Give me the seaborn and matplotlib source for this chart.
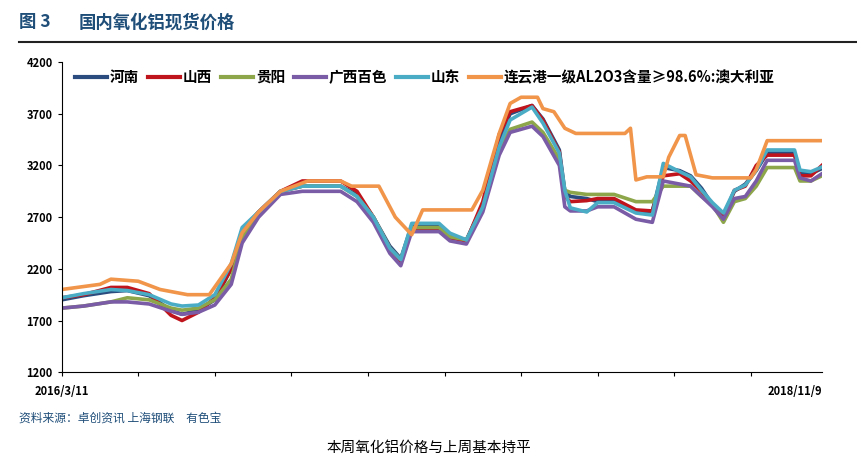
import pandas as pd
import matplotlib.pyplot as plt
import seaborn as sns

plt.rcParams["font.family"] = ["Noto Sans CJK SC", "DejaVu Sans"]

# weekly index, 0 = 2016/3/11, 139 = 2018/11/9
weeks = [0, 4, 9, 12, 16, 20, 22, 25, 28, 31, 33, 36, 40, 44, 51, 54, 57, 60, 62, 64,
         69, 71, 74, 77, 80, 82, 86, 88, 91, 92, 93, 96, 98, 101, 105, 108, 110, 113, 115, 117,
         119, 121, 123, 125, 127, 129, 134, 135, 137, 139]
henan = [1900, 1940, 1980, 1990, 1940, 1800, 1760, 1800, 1900, 2200, 2580, 2750, 2950, 3000, 3000, 2920, 2700, 2420, 2300, 2620,
         2620, 2520, 2480, 2820, 3450, 3700, 3780, 3650, 3350, 2950, 2900, 2880, 2850, 2850, 2750, 2760, 3180, 3150, 3100, 2980,
         2820, 2720, 2950, 3020, 3150, 3320, 3320, 3130, 3120, 3170]
shanxi = [1920, 1950, 2020, 2020, 1960, 1750, 1700, 1780, 1920, 2200, 2550, 2750, 2950, 3050, 3050, 2950, 2700, 2400, 2270, 2580,
          2580, 2500, 2470, 2850, 3500, 3720, 3780, 3640, 3330, 2900, 2850, 2860, 2880, 2880, 2770, 2760, 3100, 3120, 3050, 2950,
          2820, 2700, 2960, 3000, 3200, 3300, 3300, 3100, 3100, 3200]
guiyang = [1820, 1840, 1880, 1920, 1900, 1820, 1800, 1820, 1900, 2100, 2500, 2720, 2950, 3000, 3000, 2900, 2700, 2400, 2290, 2600,
           2600, 2510, 2480, 2780, 3350, 3550, 3620, 3520, 3260, 2960, 2940, 2920, 2920, 2920, 2850, 2850, 3000, 3000, 3000, 2900,
           2820, 2650, 2850, 2880, 3000, 3180, 3180, 3050, 3050, 3100]
guangxi = [1820, 1840, 1880, 1880, 1860, 1790, 1760, 1780, 1850, 2050, 2450, 2700, 2920, 2950, 2950, 2850, 2650, 2350, 2230, 2560,
           2560, 2470, 2440, 2750, 3300, 3520, 3580, 3480, 3200, 2800, 2760, 2760, 2800, 2800, 2680, 2650, 3050, 3020, 3000, 2900,
           2800, 2680, 2880, 2900, 3050, 3250, 3250, 3080, 3050, 3120]
shandong = [1920, 1960, 2000, 1990, 1950, 1860, 1840, 1850, 1950, 2250, 2600, 2750, 2950, 3000, 3000, 2900, 2700, 2400, 2290, 2640,
            2640, 2545, 2480, 2800, 3380, 3640, 3765, 3610, 3320, 2960, 2790, 2750, 2840, 2840, 2740, 2720, 3220, 3140, 3090, 2960,
            2840, 2740, 2960, 3010, 3155, 3350, 3350, 3155, 3140, 3185]

port_weeks = [0, 7, 9, 14, 18, 23, 27, 31, 33, 36, 40, 45, 51, 53, 58, 61, 64, 66, 75, 77, 80, 82,
              84, 87, 88, 90, 92, 94, 103, 104, 105, 107, 110, 111, 113, 114, 116, 119, 126, 127, 129, 139]
port = [2000, 2050, 2100, 2080, 2000, 1950, 1950, 2250, 2550, 2750, 2950, 3050, 3050, 3000, 3000, 2700, 2530, 2770, 2770, 2960, 3510, 3800,
        3860, 3860, 3750, 3720, 3560, 3510, 3510, 3560, 3060, 3090, 3090, 3280, 3490, 3490, 3110, 3080, 3080, 3160, 3440, 3440]

names = ["河南", "山西", "贵阳", "广西百色", "山东", "连云港一级AL2O3含量≥98.6%:澳大利亚"]
colors = ["#2B4C7E", "#C0141C", "#8DA64A", "#7A5BA6", "#4BACC6", "#F0954A"]

rows = []
for name, vals in zip(names[:5], [henan, shanxi, guiyang, guangxi, shandong]):
    rows += [(w, v, name) for w, v in zip(weeks, vals)]
rows += [(w, v, names[5]) for w, v in zip(port_weeks, port)]
df = pd.DataFrame(rows, columns=["week", "price", "series"])

fig = plt.figure(figsize=(8.57, 4.67), dpi=100)
ax = fig.add_axes([0.072, 0.203, 0.887, 0.664])
sns.lineplot(data=df, x="week", y="price", hue="series", hue_order=names,
             palette=colors, linewidth=2.6, ax=ax)

ax.set_xlim(0, 139)
ax.set_ylim(1200, 4200)
ax.set_yticks(range(1200, 4201, 500))
ax.tick_params(axis="y", labelsize=8, length=3)
for t in ax.get_yticklabels():
    t.set_fontweight("bold")
ax.set_xticks(range(0, 140, 14))
ax.set_xticklabels([])
ax.tick_params(axis="x", length=3)
ax.set_xlabel("")
ax.set_ylabel("")
ax.grid(False)
for s in ["top", "right"]:
    ax.spines[s].set_visible(False)
ax.text(0, -0.04, "2016/3/11", transform=ax.transAxes, ha="center", va="top",
        fontsize=8, fontweight="bold")
ax.text(1.0, -0.04, "2018/11/9", transform=ax.transAxes, ha="right", va="top",
        fontsize=8, fontweight="bold")

leg = ax.legend(loc="upper left", bbox_to_anchor=(0.0, 1.02), ncol=6, frameon=False,
                handlelength=2.2, handletextpad=0.2, columnspacing=0.6,
                prop={"weight": "bold", "size": 10.5})
for line in leg.get_lines():
    line.set_linewidth(3)

fig.text(0.022, 0.952, "图 3", fontsize=12.5, fontweight="bold", color="#1F4E79", va="center")
fig.text(0.092, 0.952, "国内氧化铝现货价格", fontsize=12.5, fontweight="bold", color="#1F4E79", va="center")
fig.add_artist(plt.Line2D([0.022, 1.0], [0.91, 0.91], color="#222222", linewidth=1.5))
fig.text(0.022, 0.105, "资料来源：卓创资讯 上海钢联　有色宝", fontsize=8.5, style="italic",
         color="#1F4E79", va="center")
fig.text(0.5, 0.04, "本周氧化铝价格与上周基本持平", fontsize=10.5, ha="center", va="center")

fig.savefig("out.png", dpi=100)
